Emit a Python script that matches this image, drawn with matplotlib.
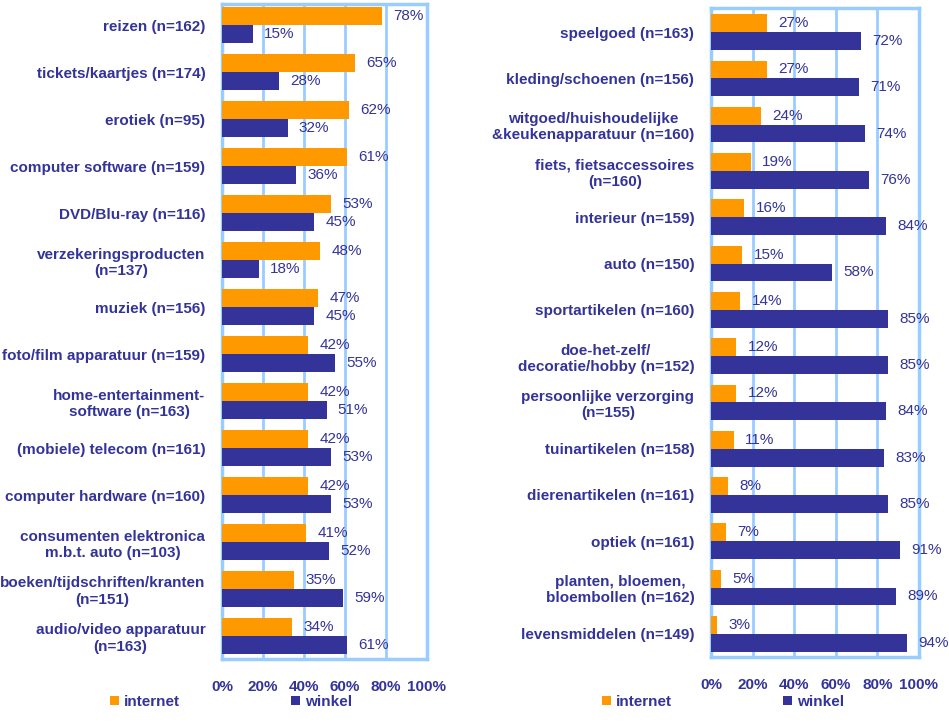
import matplotlib
matplotlib.use("Agg")
import matplotlib.pyplot as plt
from matplotlib.patches import Patch
import numpy as np

plt.rcParams['font.family'] = ['Liberation Sans', 'DejaVu Sans']

left_categories = [
    "reizen (n=162)", "tickets/kaartjes (n=174)", "erotiek (n=95)",
    "computer software (n=159)", "DVD/Blu-ray (n=116)",
    "verzekeringsproducten\n(n=137)", "muziek (n=156)",
    "foto/film apparatuur (n=159)", "home-entertainment-\nsoftware (n=163)",
    "(mobiele) telecom (n=161)", "computer hardware (n=160)",
    "consumenten elektronica\nm.b.t. auto (n=103)",
    "boeken/tijdschriften/kranten\n(n=151)", "audio/video apparatuur\n(n=163)",
]
left_internet = [78, 65, 62, 61, 53, 48, 47, 42, 42, 42, 42, 41, 35, 34]
left_winkel = [15, 28, 32, 36, 45, 18, 45, 55, 51, 53, 53, 52, 59, 61]

right_categories = [
    "speelgoed (n=163)", "kleding/schoenen (n=156)",
    "witgoed/huishoudelijke\n&keukenapparatuur (n=160)",
    "fiets, fietsaccessoires\n(n=160)", "interieur (n=159)", "auto (n=150)",
    "sportartikelen (n=160)", "doe-het-zelf/\ndecoratie/hobby (n=152)",
    "persoonlijke verzorging\n(n=155)", "tuinartikelen (n=158)",
    "dierenartikelen (n=161)", "optiek (n=161)",
    "planten, bloemen,\nbloembollen (n=162)", "levensmiddelen (n=149)",
]
right_internet = [27, 27, 24, 19, 16, 15, 14, 12, 12, 11, 8, 7, 5, 3]
right_winkel = [72, 71, 74, 76, 84, 58, 85, 85, 84, 83, 85, 91, 89, 94]

xticks = [0, 20, 40, 60, 80, 100]
xtick_labels = ["0%", "20%", "40%", "60%", "80%", "100%"]
series_names = ["internet", "winkel"]

ORANGE = "#FF9900"
NAVY = "#333399"
GRID = "#99CCFF"

W, H = 949, 722
fig = plt.figure(figsize=(W / 100, H / 100), dpi=100)


def make_panel(rect, cats, internet, winkel, ylim, legend_center):
    ax = fig.add_axes(rect)
    n = len(cats)
    y = np.arange(n)
    h = 0.385
    ax.barh(y - h / 2, internet, height=h, color=ORANGE, zorder=3)
    ax.barh(y + h / 2, winkel, height=h, color=NAVY, zorder=3)
    for yi, v in zip(y, internet):
        ax.text(v + 5.5, yi - h / 2, f"{v}%", va="center", ha="left",
                color=NAVY, fontsize=11, zorder=4, clip_on=False)
    for yi, v in zip(y, winkel):
        ax.text(v + 5.5, yi + h / 2, f"{v}%", va="center", ha="left",
                color=NAVY, fontsize=11, zorder=4, clip_on=False)
    ax.set_xlim(0, 100)
    ax.set_ylim(*ylim)
    ax.set_yticks(y)
    ax.set_yticklabels(cats, fontsize=11, fontweight="bold", color=NAVY,
                       linespacing=1.2, multialignment="center")
    ax.set_xticks(xticks)
    ax.set_xticklabels(xtick_labels, fontsize=11, fontweight="bold",
                       color=NAVY)
    ax.tick_params(axis="both", length=0)
    ax.tick_params(axis="y", pad=12)
    ax.tick_params(axis="x", pad=15)
    ax.xaxis.grid(True, color=GRID, linewidth=2, zorder=1)
    for s in ax.spines.values():
        s.set_color(GRID)
        s.set_linewidth(2.5)
    handles = [Patch(facecolor=ORANGE, edgecolor="none"),
               Patch(facecolor=NAVY, edgecolor="none")]
    fig.legend(handles, series_names, loc="center",
               bbox_to_anchor=(legend_center / W, 1 - 702 / H), ncol=2,
               frameon=False, handlelength=0.6, handleheight=0.6,
               handletextpad=0.3, columnspacing=7.3,
               prop={"weight": "bold", "size": 11},
               labelcolor=NAVY)
    return ax


n_left = len(left_categories)
n_right = len(right_categories)
make_panel([222 / W, 1 - 659 / H, 205 / W, 655 / H],
           left_categories, left_internet, left_winkel,
           (n_left - 1 + 0.49, -0.45), 231)
make_panel([711 / W, 1 - 657 / H, 208 / W, 649 / H],
           right_categories, right_internet, right_winkel,
           (n_right - 1 + 0.5, -0.52), 723)

fig.savefig("out.png", dpi=100)
